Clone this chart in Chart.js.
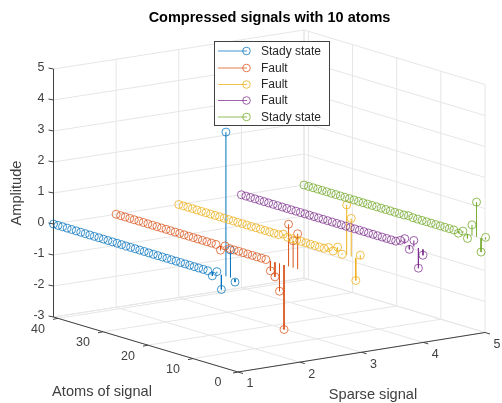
<!DOCTYPE html>
<html>
<head>
<meta charset="utf-8">
<script src="https://cdn.jsdelivr.net/npm/chart.js@4/dist/chart.umd.min.js"></script>
<style>
  html, body { margin: 0; padding: 0; background: #fff; }
  canvas { display: block; }
</style>
</head>
<body>
<canvas id="myChart" width="502" height="403"></canvas>
<script>
// data (atom 1 is the front of the axis)
var atoms = [1,2,3,4,5,6,7,8,9,10,11,12,13,14,15,16,17,18,19,20,21,22,23,24,25,26,27,28,29,30,31,32,33,34,35,36,37,38,39,40,41];
var sparseLevels = [1, 2, 3, 4, 5];
var seriesNames = ["Stady state", "Fault", "Fault", "Fault", "Stady state"];
var seriesColors = ["#0072BD", "#D95319", "#EDB120", "#7E2F8E", "#77AC30"];
var headColors = ["rgba(0,114,189,0.75)", "rgba(217,83,25,0.75)", "rgba(237,177,32,0.8)", "rgba(126,47,142,0.75)", "rgba(119,172,48,0.8)"];

var signal1 = [-0.10,0.89,4.65,-0.47,0.06,-0.12,0,0,0,0,0,0,0,0,0,0,0,0,0,0,0,0,0,0,0,0,0,0,0,0,0,0,0,0,0,0,0,0,0,0,0];
var signal2 = [1.14,0.87,1.36,-2.08,-0.89,-0.47,-0.32,0,0,0,0,0,0,0,0,0,0.04,-0.14,0,0,0,0,0,0,0,0,0,0,0,0,0,0,0,0,0,0,0,0,0,0,0];
var signal3 = [0.13,-0.73,1.23,1.62,-0.02,0.17,0,0.07,0,0,0,0,0,0,0,0,0,0.06,0,0,0,0,0,0,0,0,0,0,0,0,0,0,0,0,0,0,0,0,0,0,0];
var signal4 = [-0.19,-0.65,0.20,-0.13,0.17,0.07,0,0,0,0,0,0,0,0,0,0,0,0,0,0,0,0,0,0,0,0,0,0,0,0,0,0,0,0,0,0,0,0,0,0,0];
var signal5 = [0.07,-0.45,1.12,0.34,-0.14,0.05,-0.06,0,0,0,0,0,0,0,0,0,0,0.02,0,0,0,0,0,0,0,0,0,0,0,0,0,0,0,0,0,0,0,0,0,0,0];
var signals = [signal1, signal2, signal3, signal4, signal5];

var xTicks = [1, 2, 3, 4, 5];
var yTicks = [0, 10, 20, 30, 40];
var zTicks = [-3, -2, -1, 0, 1, 2, 3, 4, 5];
var yLimit = 41;

// view of the 3D box: where the floor corners land on the page
var cornerFront = [238, 372];
var cornerRight = [485, 332.5];
var cornerLeft = [53.5, 317];
var cornerBack = [304, 278];
var zStep = 31;

function project(x, y, z) {
  var u = (x - 1) / 4;
  var t = y / yLimit;
  var fx = cornerFront[0] + u * (cornerRight[0] - cornerFront[0]);
  var fy = cornerFront[1] + u * (cornerRight[1] - cornerFront[1]);
  var bx = cornerLeft[0] + u * (cornerBack[0] - cornerLeft[0]);
  var by = cornerLeft[1] + u * (cornerBack[1] - cornerLeft[1]);
  return { x: fx + t * (bx - fx), y: fy + t * (by - fy) - (z + 3) * zStep };
}

// the 41 atoms are stretched over the whole 0..41 axis
function projectAtom(level, atom, z) {
  var y = (atom - 1) * yLimit / 40;
  var p = project(level, y, z);
  p.x += (1 - y / yLimit) * (-3 + 0.9 * (level - 1));
  return p;
}

function segments(list) {
  var out = [];
  list.forEach(function (s) {
    out.push(project(s[0], s[1], s[2]), project(s[3], s[4], s[5]), { x: null, y: null });
  });
  return out;
}

var gridSegs = [];
zTicks.forEach(function (z) {
  gridSegs.push([1, yLimit, z, 5, yLimit, z], [5, yLimit, z, 5, 0, z]);
});
xTicks.forEach(function (x) {
  gridSegs.push([x, 0, -3, x, yLimit, -3], [x, yLimit, -3, x, yLimit, 5]);
});
yTicks.concat([yLimit]).forEach(function (y) {
  gridSegs.push([1, y, -3, 5, y, -3], [5, y, -3, 5, y, 5]);
});

var axisSegs = [
  [1, yLimit, -3, 1, yLimit, 5],
  [1, yLimit, -3, 1, 0, -3],
  [1, 0, -3, 5, 0, -3]
];

function plainLine(points, color, width, order) {
  return {
    data: points, showLine: true, pointRadius: 0, borderColor: color,
    borderWidth: width, spanGaps: false, order: order, clip: false
  };
}

var datasets = [plainLine(segments(gridSegs), "#e6e6e6", 1, 100)];

// tick marks are short strokes off the axis lines
var tickPoints = [];
zTicks.forEach(function (z) {
  var p = project(1, yLimit, z);
  tickPoints.push({ x: p.x - 5, y: p.y - 1 }, p, { x: null, y: null });
});
yTicks.forEach(function (y) {
  var p = project(1, y, -3);
  tickPoints.push({ x: p.x - 5, y: p.y + 1 }, p, { x: null, y: null });
});
xTicks.forEach(function (x) {
  var p = project(x, 0, -3);
  tickPoints.push({ x: p.x + 5, y: p.y + 1.5 }, p, { x: null, y: null });
});
datasets.push(plainLine(segments(axisSegs).concat(tickPoints), "#404040", 1, 90));

signals.forEach(function (values, s) {
  var level = sparseLevels[s];
  var stems = [];
  var heads = [];
  atoms.forEach(function (atom, i) {
    if (values[i] !== 0) {
      stems.push(projectAtom(level, atom, 0), projectAtom(level, atom, values[i]), { x: null, y: null });
    }
    heads.push(projectAtom(level, atom, values[i]));
  });
  datasets.push(plainLine(stems, seriesColors[s], 1, 50 - s * 2));
  datasets.push({
    data: heads, showLine: false, pointRadius: 4, pointBorderWidth: 1,
    pointBorderColor: headColors[s], pointBackgroundColor: "rgba(0,0,0,0)",
    order: 49 - s * 2, clip: false
  });
});

var textColor = "#404040";
var fontName = '"Liberation Sans", Arial, sans-serif';

// tick labels, axis titles and the legend box
var textPlugin = {
  id: "boxText",
  afterDraw: function (chart) {
    var ctx = chart.ctx;
    ctx.save();
    ctx.fillStyle = textColor;
    ctx.font = "12.5px " + fontName;
    ctx.textBaseline = "middle";

    ctx.textAlign = "right";
    zTicks.forEach(function (z) {
      var p = project(1, yLimit, z);
      ctx.fillText(String(z), p.x - 9, p.y - 1);
    });
    ctx.textAlign = "center";
    yTicks.forEach(function (y) {
      var p = project(1, y, -3);
      ctx.fillText(String(y), p.x - 20, p.y + 11);
    });
    xTicks.forEach(function (x) {
      var p = project(x, 0, -3);
      ctx.fillText(String(x), p.x + 12, p.y + 12);
    });

    ctx.font = "14.6px " + fontName;
    ctx.fillText("Atoms of signal", 102, 392);
    ctx.fillText("Sparse signal", 373, 395);
    ctx.save();
    ctx.translate(17, 193);
    ctx.rotate(-Math.PI / 2);
    ctx.fillText("Amplitude", 0, 0);
    ctx.restore();

    // legend
    var rows = [51, 68, 84.5, 100.5, 117];
    ctx.fillStyle = "#fff";
    ctx.fillRect(214.5, 41.5, 115, 84);
    ctx.strokeStyle = "#404040";
    ctx.lineWidth = 1;
    ctx.strokeRect(214.5, 41.5, 115, 84);
    ctx.textAlign = "left";
    ctx.font = "12px " + fontName;
    seriesNames.forEach(function (name, i) {
      ctx.strokeStyle = headColors[i];
      ctx.beginPath();
      ctx.moveTo(218, rows[i]);
      ctx.lineTo(247, rows[i]);
      ctx.stroke();
      ctx.beginPath();
      ctx.arc(246.5, rows[i], 3.8, 0, Math.PI * 2);
      ctx.stroke();
      ctx.fillStyle = "#262626";
      ctx.fillText(name, 261, rows[i] + 0.5);
    });
    ctx.restore();
  }
};

var ctx = document.getElementById("myChart").getContext("2d");
var chart = new Chart(ctx, {
  type: "scatter",
  data: { datasets: datasets },
  options: {
    responsive: false,
    animation: false,
    layout: { autoPadding: false, padding: { left: 37, top: 0, right: 0, bottom: 0 } },
    scales: {
      x: { type: "linear", display: false, min: 37, max: 502 },
      y: { type: "linear", display: false, min: 30, max: 403, reverse: true }
    },
    plugins: {
      legend: { display: false },
      tooltip: { enabled: false },
      title: {
        display: true,
        text: "Compressed signals with 10 atoms",
        color: "#000",
        font: { family: fontName, size: 14.5, weight: "bold", lineHeight: 1.2 },
        padding: { top: 9.3, bottom: 3.3 }
      }
    }
  },
  plugins: [textPlugin]
});
</script>
</body>
</html>
